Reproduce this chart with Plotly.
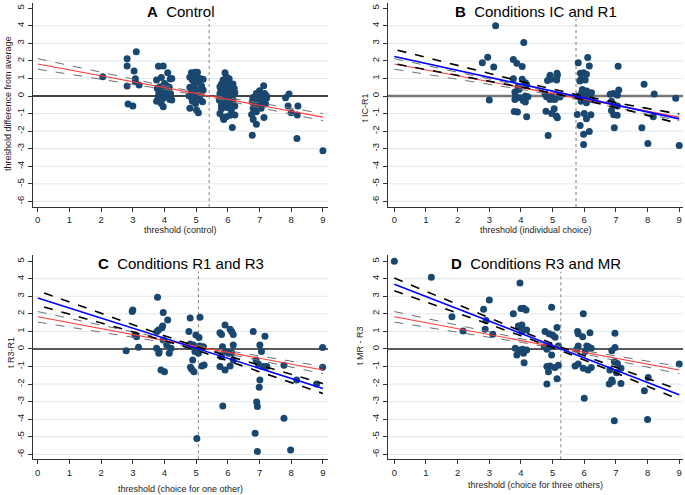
import plotly.graph_objects as go

# ---------------- data ----------------
# Panel A: Control
a_x = [2.05, 2.82, 2.82, 3.11, 3.04, 3.08, 3.08, 3.2, 2.82, 2.85, 3.0,
       3.81, 3.96, 4.1, 3.75, 3.9, 4.18, 4.23, 4.0, 3.86, 4.15, 4.07, 3.8, 3.75, 3.9, 3.96,
       4.17, 4.23, 4.0, 3.93, 4.07, 3.82, 4.12, 4.19, 3.97, 3.77,
       4.85, 4.96, 5.04, 4.8, 4.88, 5.01, 5.12, 5.22, 5.07, 4.94, 4.8, 5.17, 4.85, 5.03, 5.14,
       4.77, 4.96, 5.12, 4.88, 4.8, 5.01, 5.07, 5.2, 4.98, 4.86, 5.22, 4.9,
       5.91, 5.95, 5.85, 6.0, 5.8, 6.16, 6.06, 5.77, 5.9, 6.11, 6.22, 5.75, 5.95, 6.06, 5.83,
       6.16, 5.73, 5.91, 6.06, 5.8, 6.22, 5.98, 6.11, 5.75, 5.85, 5.95, 6.07, 6.22, 5.87, 6.14,
       5.8, 6.0, 5.87, 6.14, 5.75, 6.04, 6.2, 5.9,
       7.13, 7.0, 6.9, 7.16, 6.79, 7.05, 7.22, 6.9, 7.1, 6.77, 6.98, 7.19, 6.85, 7.05, 6.8,
       6.9, 6.75, 7.14, 6.8, 6.9, 6.77, 7.0, 7.22,
       7.93, 7.82, 7.9, 8.0, 8.19, 8.21, 8.18, 9.0]
a_y = [1.1, 2.13, 1.71, 2.53, 1.43, 0.99, 0.82, 0.63, 0.57, -0.46, -0.57,
       1.7, 1.71, 1.33, 0.91, 1.06, 0.97, 1.0, 0.72, 0.53, 0.5, 0.25, -0.04, -0.29, -0.42, -0.61,
       -0.19, -0.23, 0.06, 0.34, 0.57, 0.19, -0.04, 0.15, -0.13, 0.44,
       1.33, 1.35, 1.35, 1.07, 0.91, 1.12, 1.0, 0.95, 0.78, 0.63, 0.5, 0.57, 0.25, 0.34, 0.15,
       0.02, -0.04, -0.19, -0.29, -0.7, -0.8, -0.95, -0.32, -0.42, -0.13, 0.34, 0.44,
       1.33, 1.1, 0.91, 0.82, 0.69, 0.69, 0.5, 0.44, 0.34, 0.25, 0.19, 0.15, 0.1, -0.04, -0.1,
       -0.19, -0.23, -0.32, -0.42, -0.51, -0.57, -0.65, -0.8, -0.99, -1.22, -1.18, -1.1, -1.08, -1.33, -1.79,
       -0.72, -0.23, 0.06, 0.06, 0.53, 0.99, 0.44, 0.63,
       0.59, 0.3, 0.15, 0.15, -0.08, -0.04, -0.13, -0.23, -0.32, -0.32, -0.51, -0.46, -0.61, -0.7, -0.7,
       -0.9, -1.05, -1.22, -1.33, -1.6, -2.23, -0.23, 0.0,
       0.11, -0.1, -0.57, -0.95, -1.08, -0.57, -2.42, -3.12]

# Panel B: Conditions IC and R1
b_x = [3.2, 4.09, 2.78, 2.95, 3.14, 3.0, 3.76, 3.87, 4.04, 3.76, 4.04, 4.14, 4.18, 3.91, 3.94,
       3.81, 3.83, 4.14, 4.22, 3.97, 3.81, 4.07, 4.14, 3.79, 3.89, 4.18,
       4.92, 4.95, 4.84, 5.13, 5.14, 5.15, 4.92, 4.76, 4.81, 4.97, 5.02, 4.92, 5.07, 5.18, 5.23,
       4.79, 5.05, 4.97, 5.12, 5.15, 4.86,
       5.81, 6.11, 6.16, 5.88, 5.98, 6.07, 5.9, 6.03, 5.86, 5.94, 6.08, 6.23, 6.16, 5.81, 6.0,
       6.13, 6.23, 5.9, 6.07, 5.78, 6.0, 6.21, 6.07, 5.87, 5.98, 6.16, 5.98, 5.92,
       7.07, 7.09, 6.82, 6.92, 7.0, 7.05, 6.86, 6.95, 7.05, 6.86, 6.93, 7.04, 6.95,
       7.89, 8.21, 8.18, 7.82, 8.01, 8.89, 9.0]
b_y = [4.0, 3.05, 1.9, 2.21, 1.66, -0.23, 2.08, 1.87, 1.68, 0.99, 0.95, 0.76, 0.65, 0.53, 0.38,
       0.23, 0.0, 0.0, -0.04, -0.1, -0.19, -0.25, -0.34, -0.88, -0.91, -1.18,
       1.1, 0.95, 0.88, 0.91, 1.3, 1.18, 1.18, 0.1, -0.04, 0.0, -0.15, -0.19, -0.19, 0.0, -0.06,
       -0.86, -0.72, -0.99, -1.14, -1.24, -2.25,
       1.9, 2.19, 1.71, 1.3, 1.33, 1.24, 0.95, 0.91, 0.86, 0.38, 0.29, 0.19, 0.15, 0.0, -0.04,
       -0.15, -0.19, -0.29, -0.38, -1.05, -0.99, -1.07, -1.3, -1.68, -2.17, -2.02, -2.76, 0.19,
       1.7, 0.34, 0.1, 0.15, 0.1, 0.04, -0.29, -0.53, -0.57, -0.82, -1.07, -1.1, -1.81,
       0.67, 0.11, -1.18, -1.81, -2.7, -0.13, -2.82]

# Panel C: Conditions R1 and R3
c_x = [3.78, 3.0, 2.98, 3.07, 3.12, 2.79, 3.18, 3.96, 4.1, 3.94, 3.92, 3.81, 3.76, 3.96, 4.07,
       3.75, 3.83, 3.82, 4.21, 4.15, 3.89, 4.0,
       4.81, 5.12, 4.77, 4.99, 5.09, 4.81, 4.91, 5.0, 5.12, 5.23, 4.96, 5.07, 4.89, 4.82, 4.86,
       4.93, 5.18, 5.25, 5.02,
       5.75, 5.91, 6.07, 6.12, 6.17, 5.8, 5.83, 5.91, 6.02, 6.12, 5.8, 6.17, 6.07, 5.75, 5.91,
       5.84, 6.17,
       6.8, 7.17, 7.01, 7.06, 6.89, 6.96, 7.12, 7.23, 7.01, 6.99, 6.91, 6.93, 6.86, 6.93,
       7.77, 7.77, 7.98, 8.17, 8.8, 8.99, 8.99]
c_y = [2.94, 2.22, 2.13, 0.8, 0.7, -0.1, 0.1, 2.07, 1.65, 1.31, 1.21, 1.08, 0.99, 0.51, 0.23,
       0.04, -0.15, -0.25, 0.04, -0.25, -1.2, -1.29,
       1.76, 1.8, 0.99, 0.8, 0.66, 0.28, 0.23, 0.13, 0.17, 0.13, -0.15, -0.25, -0.63, -1.04, -1.16,
       -1.29, -0.97, -0.91, -5.09,
       0.93, 1.37, 1.12, 0.99, 0.83, 0.83, 0.13, -0.15, -0.25, -0.21, -0.44, -0.63, -0.97, -1.0, -1.2,
       -3.24, 0.23,
       0.99, 0.72, 0.23, -0.15, -0.63, -0.85, -1.0, -1.0, -1.76, -2.18, -3.02, -3.28, -4.8, -5.83,
       -0.93, -3.95, -5.75, -1.76, -1.99, 0.08, -1.04]

# Panel D: Conditions R3 and MR
d_x = [0.0, 1.17, 1.82, 2.17, 2.82, 3.0, 2.87, 2.9, 3.11,
       3.97, 3.76, 4.0, 4.08, 4.16, 3.92, 4.03, 4.18, 4.03, 3.82, 3.92, 3.87, 4.05, 4.18, 4.08, 4.1,
       4.97, 5.14, 4.76, 4.89, 5.0, 5.08, 4.74, 4.82, 4.92, 4.97, 5.18, 4.82, 4.92, 4.87, 5.07,
       5.18, 5.14, 4.82,
       5.79, 5.81, 5.97, 5.95, 6.18, 5.81, 6.08, 6.13, 6.22, 5.76, 6.03, 5.71, 5.81, 5.97, 6.12,
       6.22, 6.0,
       6.97, 6.97, 6.87, 6.95, 7.05, 7.02, 6.81, 6.87, 6.79, 6.89, 7.16, 7.16, 6.95,
       7.9, 8.0, 8.02, 9.0]
d_y = [5.0, 4.09, 1.84, 1.03, 2.26, 2.79, 1.12, 1.62, 0.84,
       3.75, 2.0, 2.3, 2.32, 2.22, 1.31, 1.37, 1.08, 0.99, 0.04, -0.06, -0.34, -0.02, -0.06, -0.25, -0.78,
       2.38, 1.22, 0.99, 0.86, 0.8, 0.67, 0.13, -0.02, 0.13, -0.34, 0.17, -1.0, -0.97, -1.29, -1.05,
       -0.93, -1.69, -2.0,
       0.99, 0.86, 2.0, 0.7, 0.93, 0.17, 0.17, 0.13, 0.04, -0.02, -0.15, -0.97, -0.86, -1.1, -1.2,
       -1.05, -2.81,
       0.89, 0.08, -0.1, -0.72, -0.82, -1.35, -1.2, -1.77, -2.0, -1.86, -1.1, -1.96, -4.09,
       -2.38, -4.01, -1.62, -0.86]

# Reference fit (control) shown in every panel, with its confidence band
ref_fit_x = [0, 9]
ref_fit_y = [1.83, -1.2]
ref_ci_x = [0, 1.35, 2.7, 4.05, 5.4, 7.2, 9]
ref_ci_hi = [2.13, 1.605, 1.083, 0.566, 0.082, -0.474, -0.993]
ref_ci_lo = [1.53, 1.145, 0.759, 0.366, -0.058, -0.714, -1.407]

# Panel-specific fits
b_fit_x = [0, 9]
b_fit_y = [2.25, -1.3]
b_ci_x = [0.1, 1.5, 2.9, 4.3, 5.7, 7.35, 9]
b_ci_hi = [2.614, 1.967, 1.325, 0.694, 0.102, -0.497, -1.03]
b_ci_lo = [1.808, 1.349, 0.887, 0.414, -0.098, -0.801, -1.57]

c_fit_x = [0, 9]
c_fit_y = [2.9, -2.25]
c_ci_x = [0.2, 1.4, 2.6, 3.8, 5.07, 7.0, 9]
c_ci_hi = [3.186, 2.409, 1.642, 0.876, 0.099, -0.935, -1.97]
c_ci_lo = [2.386, 1.789, 1.182, 0.576, -0.101, -1.275, -2.53]

d_fit_x = [0, 9]
d_fit_y = [3.68, -2.6]
d_ci_x = [0, 1.3, 2.6, 3.9, 5.27, 7.1, 9]
d_ci_hi = [4.04, 3.053, 2.066, 1.099, 0.103, -1.114, -2.32]
d_ci_lo = [3.32, 2.493, 1.666, 0.819, -0.097, -1.434, -2.88]

# Mean thresholds (vertical dotted lines)
vlines = [5.41, 5.74, 5.07, 5.26]

panel_letters = ["A", "B", "C", "D"]
panel_titles = ["Control", "Conditions IC and R1", "Conditions R1 and R3", "Conditions R3 and MR"]
x_titles = ["threshold (control)", "threshold (individual choice)",
            "threshold (choice for one other)", "threshold (choice for three others)"]
y_titles = ["threshold difference from average", "t IC-R1", "t R3-R1", "t MR - R3"]

x_ticks = [0, 1, 2, 3, 4, 5, 6, 7, 8, 9]
y_ticks = [-6, -5, -4, -3, -2, -1, 0, 1, 2, 3, 4, 5]
y_ticktext = ["-6", "-5", "-4", "-3", "-2", "-1", "0", "1", "2", "3", "4", "5"]
grid_vals = [-6, -5, -4, -3, -2, -1, 1, 2, 3, 4]

# ---------------- styling / layout ----------------
W, H = 685, 495
FONT = "Liberation Sans, Arial, sans-serif"
NAVY = "#1a476f"
GRID = "#e0e8ec"

xr_left = [-0.15, 9.16]
xr_right = [-0.2, 9.12]
yr_top = [-6.32, 5.3]
yr_bot = [-6.28, 5.35]
xdom_left = [33 / W, 328 / W]
xdom_right = [388 / W, 683 / W]
ydom_top = [1 - 207 / H, 1 - 3 / H]
ydom_bot = [1 - 459.3 / H, 1 - 255 / H]

panels = [
    dict(x=a_x, y=a_y, fit=None, xr=xr_left, yr=yr_top, xd=xdom_left, yd=ydom_top,
         zc="#444444", zw=2.0, title_y=11, xt=(180.5, 230), yt=(8, 104)),
    dict(x=b_x, y=b_y, fit=(b_fit_x, b_fit_y, b_ci_x, b_ci_hi, b_ci_lo), xr=xr_right, yr=yr_top,
         xd=xdom_right, yd=ydom_top, zc="#777777", zw=2.6, title_y=11, xt=(535.5, 230), yt=(365, 108)),
    dict(x=c_x, y=c_y, fit=(c_fit_x, c_fit_y, c_ci_x, c_ci_hi, c_ci_lo), xr=xr_left, yr=yr_bot,
         xd=xdom_left, yd=ydom_bot, zc="#222222", zw=1.5, title_y=263, xt=(180.5, 489), yt=(11, 353)),
    dict(x=d_x, y=d_y, fit=(d_fit_x, d_fit_y, d_ci_x, d_ci_hi, d_ci_lo), xr=xr_right, yr=yr_bot,
         xd=xdom_right, yd=ydom_bot, zc="#222222", zw=1.5, title_y=263, xt=(535.5, 485), yt=(360, 346)),
]

fig = go.Figure()
shapes = []
annotations = []
layout_axes = {}

for i, p in enumerate(panels):
    n = i + 1
    xa = "x" if n == 1 else f"x{n}"
    ya = "y" if n == 1 else f"y{n}"
    xkey = "xaxis" if n == 1 else f"xaxis{n}"
    ykey = "yaxis" if n == 1 else f"yaxis{n}"

    layout_axes[xkey] = dict(
        domain=p["xd"], range=p["xr"], anchor=ya, showgrid=False, zeroline=False,
        showline=True, linecolor="#333333", linewidth=1, ticks="outside", ticklen=4,
        tickcolor="#333333", tickvals=x_ticks, tickfont=dict(family=FONT, size=9.5, color="#222"),
        fixedrange=True)
    layout_axes[ykey] = dict(
        domain=p["yd"], range=p["yr"], anchor=xa, showgrid=False, zeroline=False,
        showline=True, linecolor="#333333", linewidth=1, ticks="outside", ticklen=4,
        tickcolor="#333333", tickvals=y_ticks, ticktext=y_ticktext, tickangle=-90,
        tickfont=dict(family=FONT, size=9.5, color="#222"), fixedrange=True)

    # grid lines
    for g in grid_vals:
        shapes.append(dict(type="line", xref=f"{xa} domain", yref=ya, x0=0, x1=1, y0=g, y1=g,
                           line=dict(color=GRID, width=1), layer="below"))
    # zero line
    shapes.append(dict(type="line", xref=f"{xa} domain", yref=ya, x0=0, x1=1, y0=0, y1=0,
                       line=dict(color=p["zc"], width=p["zw"]), layer="below"))
    # vertical mean line
    shapes.append(dict(type="line", xref=xa, yref=ya, x0=vlines[i], x1=vlines[i],
                       y0=p["yr"][0], y1=4.4, line=dict(color="#808080", width=1, dash="dot"),
                       layer="below"))

    # scatter points
    fig.add_trace(go.Scatter(x=p["x"], y=p["y"], mode="markers", xaxis=xa, yaxis=ya,
                             marker=dict(color=NAVY, size=7, line=dict(width=0)),
                             showlegend=False, hoverinfo="skip"))
    # reference CI and fit
    for band in (ref_ci_hi, ref_ci_lo):
        fig.add_trace(go.Scatter(x=ref_ci_x, y=band, mode="lines", xaxis=xa, yaxis=ya,
                                 line=dict(color="#707070", width=1, dash="dash"),
                                 showlegend=False, hoverinfo="skip"))
    fig.add_trace(go.Scatter(x=ref_fit_x, y=ref_fit_y, mode="lines", xaxis=xa, yaxis=ya,
                             line=dict(color="#ff3b3b", width=1.1),
                             showlegend=False, hoverinfo="skip"))
    # panel-specific fit
    if p["fit"] is not None:
        fx, fy, cx, chi, clo = p["fit"]
        for band in (chi, clo):
            fig.add_trace(go.Scatter(x=cx, y=band, mode="lines", xaxis=xa, yaxis=ya,
                                     line=dict(color="#000000", width=1.6, dash="dash"),
                                     showlegend=False, hoverinfo="skip"))
        fig.add_trace(go.Scatter(x=fx, y=fy, mode="lines", xaxis=xa, yaxis=ya,
                                 line=dict(color="#0000ff", width=1.6),
                                 showlegend=False, hoverinfo="skip"))

    # panel title
    annotations.append(dict(
        text=f"<b>{panel_letters[i]}</b>\u00a0 {panel_titles[i]}",
        xref=f"{xa} domain", x=0.5, yref="paper", y=1 - p["title_y"] / H,
        xanchor="center", yanchor="middle", showarrow=False,
        font=dict(family=FONT, size=15, color="#000")))
    # axis titles
    annotations.append(dict(
        text=x_titles[i], xref="paper", yref="paper", x=p["xt"][0] / W, y=1 - p["xt"][1] / H,
        xanchor="center", yanchor="middle", showarrow=False,
        font=dict(family=FONT, size=9, color="#222")))
    annotations.append(dict(
        text=y_titles[i], xref="paper", yref="paper", x=p["yt"][0] / W, y=1 - p["yt"][1] / H,
        xanchor="center", yanchor="middle", showarrow=False, textangle=-90,
        font=dict(family=FONT, size=9, color="#222")))

fig.update_layout(
    width=W, height=H, margin=dict(l=0, r=0, t=0, b=0),
    paper_bgcolor="white", plot_bgcolor="white",
    shapes=shapes, annotations=annotations, showlegend=False,
    **layout_axes)

fig.write_html("out.html", config={"displayModeBar": False},
               post_script="document.body.style.margin='0px';document.body.style.padding='0px';")
